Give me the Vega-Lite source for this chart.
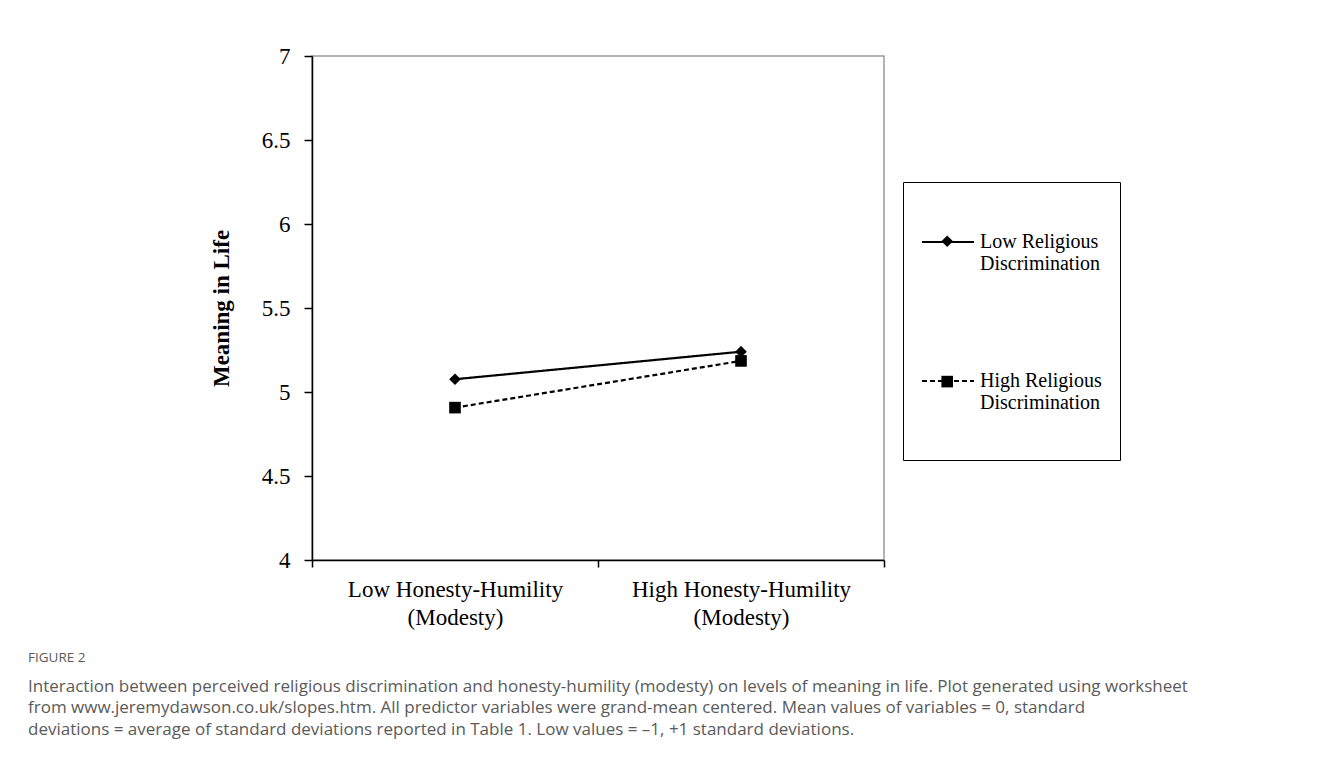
{
  "$schema": "https://vega.github.io/schema/vega-lite/v6.json",
  "width": 572,
  "height": 504,
  "autosize": {"type": "none"},
  "padding": {"left": 312, "top": 56, "right": 444, "bottom": 204},
  "background": "white",
  "config": {
    "view": {"stroke": "#9a9a9a", "strokeWidth": 1.5},
    "font": "Liberation Serif"
  },
  "title": {
    "text": "FIGURE 2",
    "subtitle": [
      "Interaction between perceived religious discrimination and honesty-humility (modesty) on levels of meaning in life. Plot generated using worksheet",
      "from www.jeremydawson.co.uk/slopes.htm. All predictor variables were grand-mean centered. Mean values of variables = 0, standard",
      "deviations = average of standard deviations reported in Table 1. Low values = –1, +1 standard deviations."
    ],
    "orient": "bottom",
    "anchor": "start",
    "frame": "group",
    "dx": -284,
    "offset": 22,
    "font": "Open Sans",
    "fontSize": 13.5,
    "fontWeight": "normal",
    "color": "#5a5a5a",
    "subtitleFont": "Open Sans",
    "subtitleFontSize": 17,
    "subtitleColor": "#5a5a5a",
    "subtitleLineHeight": 21.5,
    "subtitlePadding": 14
  },
  "data": {
    "values": [
      {"honesty": "Low Honesty-Humility (Modesty)", "group": "Low Religious Discrimination", "meaning": 5.076},
      {"honesty": "High Honesty-Humility (Modesty)", "group": "Low Religious Discrimination", "meaning": 5.24},
      {"honesty": "Low Honesty-Humility (Modesty)", "group": "High Religious Discrimination", "meaning": 4.907},
      {"honesty": "High Honesty-Humility (Modesty)", "group": "High Religious Discrimination", "meaning": 5.185}
    ]
  },
  "encoding": {
    "x": {
      "field": "honesty",
      "type": "nominal",
      "sort": ["Low Honesty-Humility (Modesty)", "High Honesty-Humility (Modesty)"],
      "scale": {"type": "band", "paddingInner": 0, "paddingOuter": 0},
      "bandPosition": 0.5,
      "axis": {
        "title": null,
        "labelAngle": 0,
        "tickBand": "extent",
        "labelExpr": "[slice(datum.label, 0, indexof(datum.label, ' (')), slice(datum.label, indexof(datum.label, '('))]",
        "labelFont": "Liberation Serif",
        "labelFontSize": 23,
        "labelLineHeight": 28,
        "labelColor": "black",
        "labelPadding": 11,
        "labelLimit": 400,
        "tickSize": 7,
        "tickColor": "black",
        "tickWidth": 1.5,
        "domainColor": "black",
        "domainWidth": 1.5,
        "grid": false
      }
    },
    "y": {
      "field": "meaning",
      "type": "quantitative",
      "scale": {"domain": [4, 7], "nice": false, "zero": false},
      "axis": {
        "title": "Meaning in Life",
        "titleFont": "Liberation Serif",
        "titleFontSize": 23,
        "titleFontWeight": "bold",
        "titleColor": "black",
        "titlePadding": 28,
        "values": [4, 4.5, 5, 5.5, 6, 6.5, 7],
        "format": "~g",
        "labelFont": "Liberation Serif",
        "labelFontSize": 23,
        "labelColor": "black",
        "labelPadding": 14,
        "tickSize": 8,
        "tickColor": "black",
        "tickWidth": 1.5,
        "domainColor": "black",
        "domainWidth": 1.5,
        "grid": false
      }
    }
  },
  "layer": [
    {
      "mark": {"type": "line", "strokeWidth": 2.2, "color": "black"},
      "encoding": {
        "strokeDash": {
          "field": "group",
          "type": "nominal",
          "sort": ["Low Religious Discrimination", "High Religious Discrimination"],
          "scale": {"range": [[1, 0], [5, 3]]},
          "legend": {
            "orient": "none",
            "legendX": 591,
            "legendY": 126,
            "title": " ",
            "titleOrient": "bottom",
            "titleFontSize": 10,
            "titlePadding": 19,
            "strokeColor": "black",
            "padding": 18,
            "labelFont": "Liberation Serif",
            "labelFontSize": 20,
            "labelColor": "black",
            "symbolOffset": -15,
            "labelOffset": -10,
            "labelLimit": 300,
            "rowPadding": 65,
            "symbolType": "M-0.634,0H0.634",
            "symbolSize": 6724,
            "symbolStrokeColor": "black",
            "symbolStrokeWidth": 2,
            "labelExpr": "[slice(datum.label, 0, indexof(datum.label, ' Discrimination')), 'Discrimination']"
          }
        }
      }
    },
    {
      "mark": {"type": "point", "filled": true, "opacity": 1, "color": "black", "size": 135},
      "encoding": {
        "shape": {
          "field": "group",
          "type": "nominal",
          "scale": {"domain": ["Low Religious Discrimination", "High Religious Discrimination"], "range": ["diamond", "square"]},
          "legend": {
            "orient": "none",
            "legendX": 629.2,
            "legendY": 179.2,
            "title": null,
            "padding": 0,
            "labelFontSize": 1,
            "labelColor": "rgba(0,0,0,0)",
            "labelOffset": 0,
            "rowPadding": 128.4,
            "symbolSize": 135,
            "symbolFillColor": "black",
            "symbolStrokeWidth": 0,
            "symbolOpacity": 1,
            "labelExpr": "''"
          }
        }
      }
    }
  ]
}
